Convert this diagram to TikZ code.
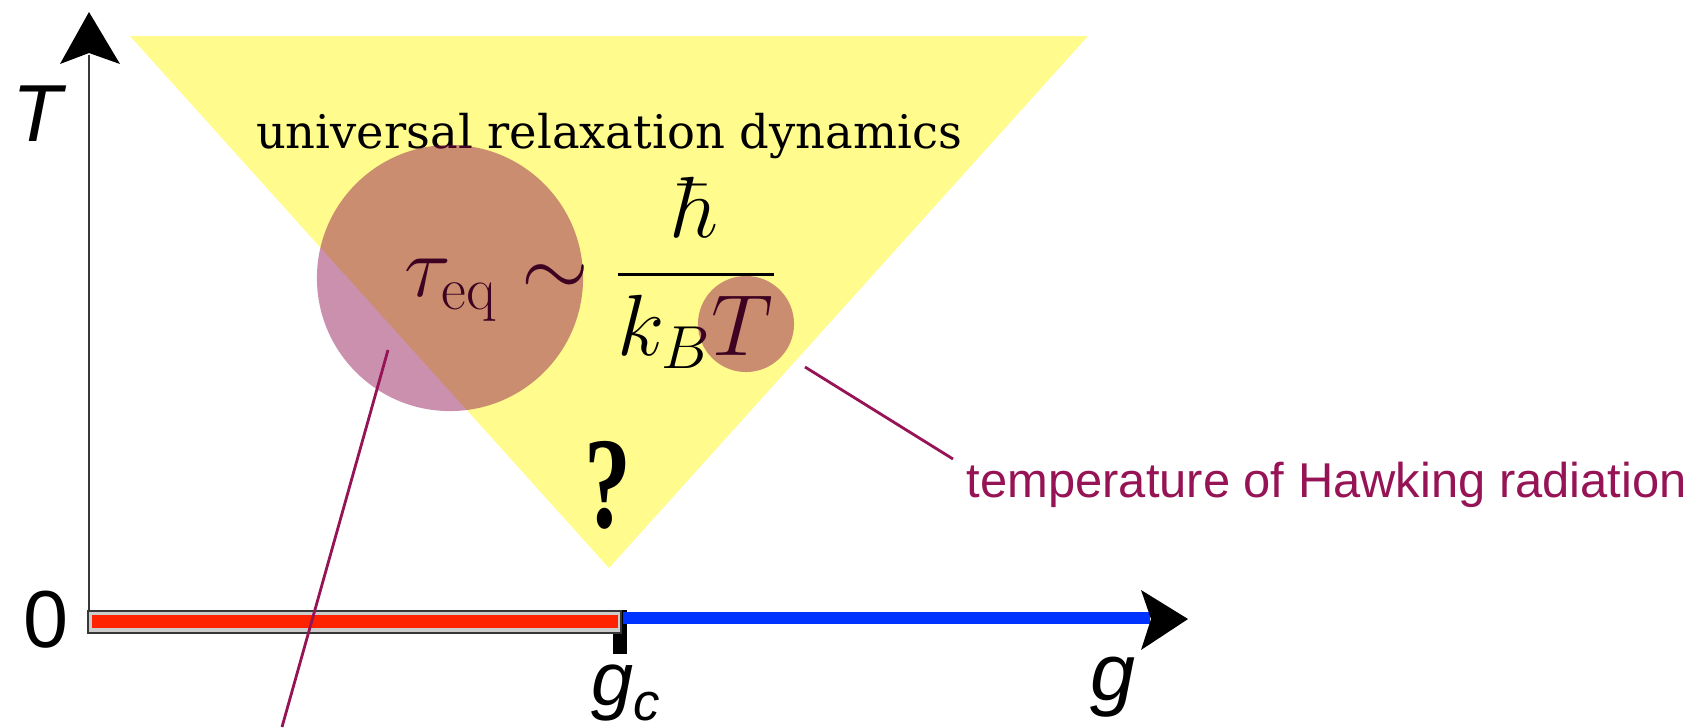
\documentclass[tikz,border=0pt]{standalone}
\usepackage{fix-cm}
\usepackage{amsmath}
\usepackage{fontspec}
\newfontfamily\sansf{Liberation Sans}
\newfontfamily\urdf{DejaVu Serif}
\newfontfamily\qmf{Liberation Serif}
\definecolor{yel}{RGB}{255,251,140}
\definecolor{blob}{RGB}{138,8,76}
\definecolor{lead}{RGB}{150,20,85}
\definecolor{barred}{RGB}{255,34,0}
\definecolor{barblue}{RGB}{0,51,255}
\definecolor{boxgray}{RGB}{204,204,204}
\definecolor{axisgray}{RGB}{55,55,55}
\begin{document}
\begin{tikzpicture}[x=0.01cm,y=-0.01cm,
  axlabel/.style={inner sep=0pt, font=\fontsize{23}{26}\sansf\itshape},
  blobstyle/.style={circle, inner sep=0pt, fill=blob, fill opacity=0.45, draw=none},
  leader/.style={draw=lead, line width=0.8pt},
]
\useasboundingbox (0,0) rectangle (1704,727);
% yellow region
\fill[yel] (130,36) -- (1088,36) -- (609,568) -- cycle;
% axes
\draw[axisgray, line width=0.6pt] (89,632) -- (89,55);
\fill (89,12) -- (120,64) -- (89,53) -- (60,64) -- cycle;
\fill (613,610) rectangle (627,654);
\draw[fill=boxgray, draw=axisgray, line width=0.6pt] (88,611) rectangle (621,633);
\fill[barred] (92,615) rectangle (618,628);
\fill[barblue] (623,612) rectangle (1150,624);
\fill (1188,619) -- (1141,590) -- (1151,619) -- (1141,650) -- cycle;
% axis labels
\node[axlabel, anchor=base west] (Tl) at (12,141) {T};
\node[anchor=base, inner sep=0pt, font=\fontsize{23}{26}\sansf] (zero) at (46,647) {0};
\node[axlabel, anchor=base west] (gl) at (1090,700) {g};
\node[inner sep=0pt, font=\fontsize{21.5}{24}\sansf\itshape, anchor=base west] (gcl) at (591,705) {g\raisebox{-0.2em}{\fontsize{15}{17}\selectfont c}};
% texts
\node[anchor=base, inner sep=0pt, font=\fontsize{13.2}{16}\urdf] (title) at (609,148) {universal relaxation dynamics};
\node[anchor=base west, inner sep=0pt, font=\fontsize{24.7}{29}\selectfont] (formula) at (404,296) {$\tau_{\mathrm{eq}}\sim\genfrac{}{}{0.95pt}{0}{\hbar}{k_BT}$};
\node[anchor=base, inner sep=0pt, font=\fontsize{37}{40}\qmf\bfseries] (qm) at (608,527) {\scalebox{0.72}[1]{?}};
\node[anchor=base west, inner sep=0pt, text=lead, font=\fontsize{13.9}{16}\sansf] (hawk) at (966,497) {temperature of Hawking radiation};
% blobs
\node[blobstyle, minimum size=2.66cm] (bigc) at (450,278) {};
\node[blobstyle, minimum size=0.96cm] (smallc) at (746,324) {};
% leaders
\coordinate (h1) at (805,367);
\coordinate (h2) at (953,459);
\draw[leader] (h1) -- (h2);
\coordinate (c1) at (388,350);
\coordinate (c2) at (282,727);
\draw[leader] (c1) -- (c2);
\end{tikzpicture}
\end{document}
